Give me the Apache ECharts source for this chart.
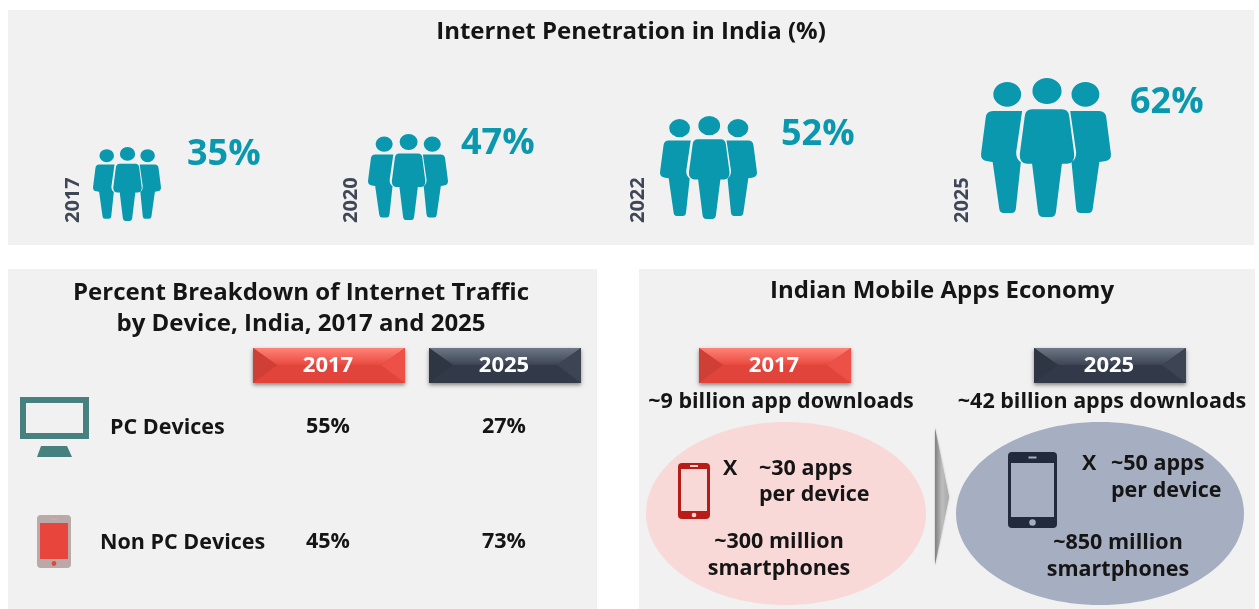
<!DOCTYPE html>
<html>
<head>
<meta charset="utf-8">
<style>
  html, body { margin: 0; padding: 0; background: #fff; }
  #main { width: 1259px; height: 609px; }
</style>
<script src="https://cdn.jsdelivr.net/npm/echarts@6/dist/echarts.min.js"></script>
</head>
<body>
<div id="main"></div>
<script>
// data
const years = ['2017', '2020', '2022', '2025']
const penetration = [35, 47, 52, 62]

const trafficYears = ['2017', '2025']
const trafficRows = ['PC Devices', 'Non PC Devices']
const traffic2017 = [55, 45]
const traffic2025 = [27, 73]

const appYears = ['2017', '2025']
const appDownloads = ['~9 billion app downloads', '~42 billion apps downloads']
const appsPerDevice = ['~30 apps', '~50 apps']
const smartphones = ['~300 million', '~850 million']

const FONT = '"Open Sans", "Noto Sans", sans-serif'
const TEAL = '#0a98ae'
const INK = '#151515'
const TITLE_SIZE = 24
const TEXT_SIZE = 21.5

// where each people block sits: icon box, year x, percent label offset
const peopleBoxes = [
  { left: 93, top: 147, width: 68, height: 74, yearX: 73, labelX: 94, labelY: -10 },
  { left: 368, top: 134, width: 80, height: 86, yearX: 351, labelX: 93, labelY: -8 },
  { left: 660, top: 116, width: 97, height: 103, yearX: 638, labelX: 121, labelY: 1 },
  { left: 981, top: 78, width: 130, height: 139, yearX: 962, labelX: 149, labelY: 7 }
]

// three standing people, traced from the 2025 icon
const PEOPLE = 'path://' +
  'M67,72A42,37 0 1 1 151,72A42,37 0 1 1 67,72Z' +
  'M185,62A44,39 0 1 1 273,62A44,39 0 1 1 185,62Z' +
  'M303,72A42,37 0 1 1 387,72A42,37 0 1 1 303,72Z' +
  'M66,122L154,122L136,245Q135,266 150,276L135,415Q133,428 122,428L98,428Q87,428 85,415L65,275L50,273Q28,270 30,250L44,142Q46,122 66,122Z' +
  'M184,117L274,117Q294,117 296,137L311,250Q313,278 290,280L274,280L256,425Q254,440 241,440L217,440Q204,440 202,425L184,280L168,280Q145,278 147,250L162,137Q164,117 184,117Z' +
  'M299,122L386,122Q406,122 408,142L422,250Q424,270 402,273L387,275L367,415Q365,428 354,428L330,428Q319,428 317,415L303,276Q318,266 317,245Z'

function peopleParts() {
  const grid = [], xAxis = [], yAxis = [], series = []
  years.forEach((year, i) => {
    const box = peopleBoxes[i]
    grid.push({ left: box.left, top: box.top, width: box.width, height: box.height })
    xAxis.push({ type: 'category', gridIndex: i, data: [year], show: false })
    yAxis.push({
      type: 'value',
      gridIndex: i,
      min: 0,
      max: penetration[i],
      offset: box.left - box.yearX,
      name: year,
      nameLocation: 'start',
      nameRotate: 90,
      nameGap: 223 - box.top - box.height,
      nameTextStyle: { fontFamily: FONT, fontWeight: 'bold', fontSize: 20, color: '#3f4656', align: 'left', verticalAlign: 'middle' },
      axisLine: { show: false },
      axisTick: { show: false },
      axisLabel: { show: false },
      splitLine: { show: false }
    })
    series.push({
      type: 'pictorialBar',
      xAxisIndex: i,
      yAxisIndex: i,
      silent: true,
      symbol: PEOPLE,
      symbolSize: [box.width, '100%'],
      symbolPosition: 'start',
      barWidth: '100%',
      itemStyle: { color: TEAL },
      label: {
        show: true,
        position: [box.labelX, box.labelY],
        formatter: '{c}%',
        fontFamily: FONT,
        fontWeight: 'bold',
        fontSize: 36,
        color: TEAL
      },
      data: [penetration[i]]
    })
  })
  return { grid, xAxis, yAxis, series }
}

// ---- decoration helpers ----
function rect(x, y, w, h, fill, r) {
  return { type: 'rect', shape: { x, y, width: w, height: h, r: r || 0 }, style: { fill }, silent: true }
}
function poly(points, fill, shadow) {
  return { type: 'polygon', shape: { points }, style: Object.assign({ fill }, shadow || {}), silent: true }
}
function label(text, x, y, size, align, fill) {
  return {
    type: 'text',
    x, y: y + 1.5,
    silent: true,
    style: {
      text,
      fontFamily: FONT,
      fontWeight: 'bold',
      fontSize: size,
      fill: fill || INK,
      align: align || 'center',
      verticalAlign: 'middle'
    }
  }
}
function linear(top, bottom) {
  return new echarts.graphic.LinearGradient(0, 0, 0, 1, [{ offset: 0, color: top }, { offset: 1, color: bottom }])
}

const RED_PILL = { base: '#e0443a', top: '#ff8377', mid: '#e9493f', left: '#cf3f36', right: '#ec5046' }
const DARK_PILL = { base: '#323a49', top: '#6d7785', mid: '#3d4554', left: '#2f3643', right: '#3d4554' }

function pill(x, text, c) {
  const y = 348, w = 152, h = 35, b = 24, m = 17
  return [
    { type: 'rect', shape: { x, y, width: w, height: h }, style: { fill: c.base, shadowBlur: 4, shadowOffsetY: 2, shadowColor: 'rgba(0,0,0,0.45)' }, silent: true },
    poly([[x, y], [x + w, y], [x + w - b, y + m], [x + b, y + m]], linear(c.top, c.mid)),
    poly([[x, y], [x + b, y + m], [x, y + h]], c.left),
    poly([[x + w, y], [x + w - b, y + m], [x + w, y + h]], c.right),
    label(text, x + w / 2 - 1, y + h / 2 - 1, 22, 'center', '#fff')
  ]
}

function phone(x, y, w, h, color, screen, top, bottom) {
  return [
    rect(x, y, w, h, color, 4),
    rect(x + 3, y + top, w - 6, h - top - bottom, screen),
    rect(x + w / 2 - 4, y + top / 2 - 1, 8, 2, screen),
    { type: 'circle', shape: { cx: x + w / 2, cy: y + h - bottom / 2, r: bottom / 3.4 }, style: { fill: screen }, silent: true }
  ]
}

const chevronFill = new echarts.graphic.LinearGradient(0, 0, 1, 0, [
  { offset: 0, color: '#7f7f7f' },
  { offset: 0.5, color: '#bdbdbd' },
  { offset: 1, color: '#a8a8a8' }
])

const elements = [
  // panels
  rect(8, 10, 1246, 235, '#f1f1f1'),
  rect(8, 269, 589, 340, '#f1f1f1'),
  rect(639, 269, 616, 340, '#f1f1f1'),

  // titles
  label('Internet Penetration in India (%)', 631, 31, TITLE_SIZE),
  label('Percent Breakdown of Internet Traffic', 301, 292, TITLE_SIZE),
  label('by Device, India, 2017 and 2025', 301, 323, TITLE_SIZE),
  label('Indian Mobile Apps Economy', 942, 290, TITLE_SIZE),

  // traffic table headers and row names
  ...pill(253, trafficYears[0], RED_PILL),
  ...pill(429, trafficYears[1], DARK_PILL),
  label(trafficRows[0], 110, 426, TEXT_SIZE, 'left'),
  label(trafficRows[1], 100, 541, TEXT_SIZE, 'left'),

  // monitor
  rect(20, 397, 69, 42, '#46807f'),
  rect(26, 403, 57, 30, '#f1f1f1'),
  poly([[41, 446], [67, 446], [72, 457], [37, 457]], '#46807f'),

  // red phone with filled screen
  rect(37, 515, 34, 53, '#b9a9a8', 4),
  rect(40, 523, 28, 36, '#e8453c'),
  { type: 'circle', shape: { cx: 54, cy: 563.5, r: 2.4 }, style: { fill: '#e8453c' }, silent: true },
  rect(51, 518.5, 6, 1.5, '#e8a09a'),

  // apps economy
  ...pill(699, appYears[0], RED_PILL),
  ...pill(1034, appYears[1], DARK_PILL),
  label(appDownloads[0], 781, 400, TEXT_SIZE),
  label(appDownloads[1], 1102, 400, TEXT_SIZE),

  { type: 'ellipse', shape: { cx: 786, cy: 513.5, rx: 140, ry: 91.5 }, style: { fill: '#f9d9d8' }, silent: true },
  { type: 'ellipse', shape: { cx: 1100, cy: 513.5, rx: 144, ry: 91.5 }, style: { fill: '#a6afc2' }, silent: true },

  // chevron between the ovals
  poly([[935, 428], [949, 497], [935, 565]], chevronFill, { shadowBlur: 2, shadowColor: 'rgba(0,0,0,0.3)' }),

  ...phone(678, 463, 32, 56, '#b81c16', '#f9d9d8', 6, 8),
  label('X', 723, 467, TEXT_SIZE, 'left'),
  label(appsPerDevice[0], 759, 467, TEXT_SIZE, 'left'),
  label('per device', 759, 493, TEXT_SIZE, 'left'),
  label(smartphones[0], 779, 540, TEXT_SIZE),
  label('smartphones', 779, 567, TEXT_SIZE),

  ...phone(1008, 452, 49, 76, '#222b3b', '#a6afc2', 11, 11),
  label('X', 1082, 462, TEXT_SIZE, 'left'),
  label(appsPerDevice[1], 1111, 462, TEXT_SIZE, 'left'),
  label('per device', 1111, 489, TEXT_SIZE, 'left'),
  label(smartphones[1], 1118, 541, TEXT_SIZE),
  label('smartphones', 1118, 568, TEXT_SIZE)
]

const people = peopleParts()
const tableIndex = years.length

function tableSeries(values, year) {
  return {
    type: 'scatter',
    xAxisIndex: tableIndex,
    yAxisIndex: tableIndex,
    silent: true,
    symbolSize: 1,
    itemStyle: { color: 'transparent', opacity: 1 },
    label: {
      show: true,
      position: 'inside',
      formatter: p => p.value[2] + '%',
      fontFamily: FONT,
      fontWeight: 'bold',
      fontSize: TEXT_SIZE,
      color: INK
    },
    data: values.map((v, i) => [year, trafficRows[i], v])
  }
}

const chart = echarts.init(document.getElementById('main'), null, { renderer: 'canvas' })
chart.setOption({
  animation: false,
  backgroundColor: '#fff',
  graphic: { elements },
  grid: [...people.grid, { left: 240, top: 369.5, width: 352, height: 230 }],
  xAxis: [...people.xAxis, { type: 'category', gridIndex: tableIndex, data: trafficYears, show: false }],
  yAxis: [...people.yAxis, { type: 'category', gridIndex: tableIndex, data: trafficRows, inverse: true, show: false }],
  series: [
    ...people.series,
    tableSeries(traffic2017, trafficYears[0]),
    tableSeries(traffic2025, trafficYears[1])
  ]
})
</script>
</body>
</html>
